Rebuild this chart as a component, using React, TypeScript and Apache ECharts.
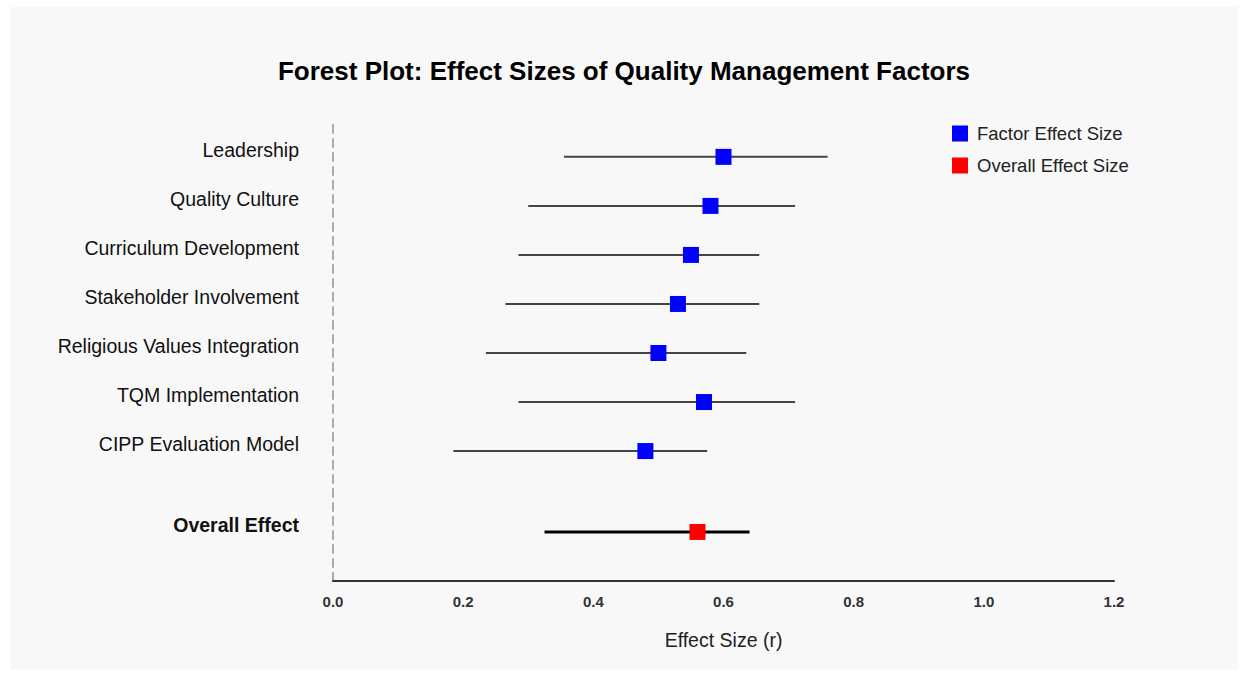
import React, { useEffect, useRef } from "react";
import * as echarts from "echarts";

const factors = [
  "Leadership",
  "Quality Culture",
  "Curriculum Development",
  "Stakeholder Involvement",
  "Religious Values Integration",
  "TQM Implementation",
  "CIPP Evaluation Model",
];
const estimates = [0.6, 0.58, 0.55, 0.53, 0.5, 0.57, 0.48];
const lowerCI = [0.355, 0.3, 0.285, 0.265, 0.235, 0.285, 0.185];
const upperCI = [0.76, 0.71, 0.655, 0.655, 0.635, 0.71, 0.575];
const rowPositions = [7, 6, 5, 4, 3, 2, 1];

const overallLabel = "Overall Effect";
const overallEstimate = 0.56;
const overallLower = 0.325;
const overallUpper = 0.64;
const overallRow = -0.65;

const FONT = "'Liberation Sans', Arial, Helvetica, sans-serif";

export default function App() {
  const ref = useRef<HTMLDivElement>(null);

  useEffect(() => {
    if (!ref.current) return;
    const chart = echarts.init(ref.current, undefined, { renderer: "svg" });

    const ciRenderer = (width: number, color: string) => (params: any, api: any) => {
      const p1 = api.coord([api.value(0), api.value(2)]);
      const p2 = api.coord([api.value(1), api.value(2)]);
      return {
        type: "line",
        shape: { x1: p1[0], y1: p1[1], x2: p2[0], y2: p2[1] },
        style: { stroke: color, lineWidth: width },
      };
    };

    const labelData: any[] = factors.map((f, i) => ({
      value: [0, rowPositions[i]],
      name: f,
      label: { fontWeight: "normal" },
    }));
    labelData.push({
      value: [0, overallRow],
      name: overallLabel,
      label: { fontWeight: "bold" },
    });

    chart.setOption({
      animation: false,
      backgroundColor: "transparent",
      textStyle: { fontFamily: FONT },
      title: {
        text: "Forest Plot: Effect Sizes of Quality Management Factors",
        left: "center",
        top: 53,
        textStyle: { fontFamily: FONT, fontSize: 26, fontWeight: "bold", color: "#000" },
      },
      legend: {
        orient: "vertical",
        left: 947,
        top: 119,
        itemWidth: 16,
        itemHeight: 16,
        itemGap: 13,
        icon: "rect",
        data: ["Factor Effect Size", "Overall Effect Size"],
        textStyle: { fontFamily: FONT, fontSize: 18.5, color: "#222", padding: [0, 0, 0, 4] },
      },
      grid: { left: 333, right: 134, top: 125, bottom: 95, containLabel: false },
      xAxis: {
        type: "value",
        min: 0,
        max: 1.2,
        interval: 0.2,
        name: "Effect Size (r)",
        nameLocation: "middle",
        nameGap: 49,
        nameTextStyle: { fontFamily: FONT, fontSize: 19.5, color: "#222" },
        axisLine: { show: true, onZero: false, lineStyle: { color: "#333", width: 2 } },
        axisTick: { show: false },
        splitLine: { show: false },
        axisLabel: {
          margin: 13,
          fontFamily: FONT,
          fontSize: 15,
          fontWeight: "bold",
          color: "#333",
          formatter: (v: number) => v.toFixed(1),
        },
      },
      yAxis: {
        type: "value",
        min: -1.65,
        max: 7.65,
        axisLine: { show: true, onZero: false, lineStyle: { color: "#aaa", width: 2, type: [8, 6] } },
        axisTick: { show: false },
        axisLabel: { show: false },
        splitLine: { show: false },
      },
      series: [
        {
          type: "custom",
          name: "factorCI",
          silent: true,
          renderItem: ciRenderer(2, "#444"),
          encode: { x: [0, 1], y: 2 },
          data: factors.map((_, i) => [lowerCI[i], upperCI[i], rowPositions[i]]),
          z: 1,
        },
        {
          type: "custom",
          name: "overallCI",
          silent: true,
          renderItem: ciRenderer(3, "#000"),
          encode: { x: [0, 1], y: 2 },
          data: [[overallLower, overallUpper, overallRow]],
          z: 1,
        },
        {
          type: "scatter",
          name: "Factor Effect Size",
          symbol: "rect",
          symbolSize: 16,
          itemStyle: { color: "#0000ff", opacity: 1 },
          data: factors.map((_, i) => [estimates[i], rowPositions[i]]),
          z: 3,
        },
        {
          type: "scatter",
          name: "Overall Effect Size",
          symbol: "rect",
          symbolSize: 16,
          itemStyle: { color: "#ff0000", opacity: 1 },
          data: [[overallEstimate, overallRow]],
          z: 3,
        },
        {
          type: "scatter",
          name: "labels",
          silent: true,
          symbolSize: 0,
          itemStyle: { color: "#000", opacity: 1 },
          label: {
            show: true,
            position: "left",
            distance: 34,
            offset: [0, -7],
            formatter: (p: any) => p.name,
            fontFamily: FONT,
            fontSize: 19.5,
            color: "#111",
          },
          data: labelData,
          z: 2,
        },
      ],
    });

    return () => chart.dispose();
  }, []);

  return (
    <div style={{ position: "fixed", left: 0, top: 0, width: 1248, height: 676, background: "#ffffff" }}>
      <div
        style={{ position: "absolute", left: 11, top: 7, right: 10, bottom: 6, background: "#f8f8f8" }}
      />
      <div ref={ref} style={{ position: "absolute", left: 0, top: 0, width: 1248, height: 676 }} />
    </div>
  );
}
